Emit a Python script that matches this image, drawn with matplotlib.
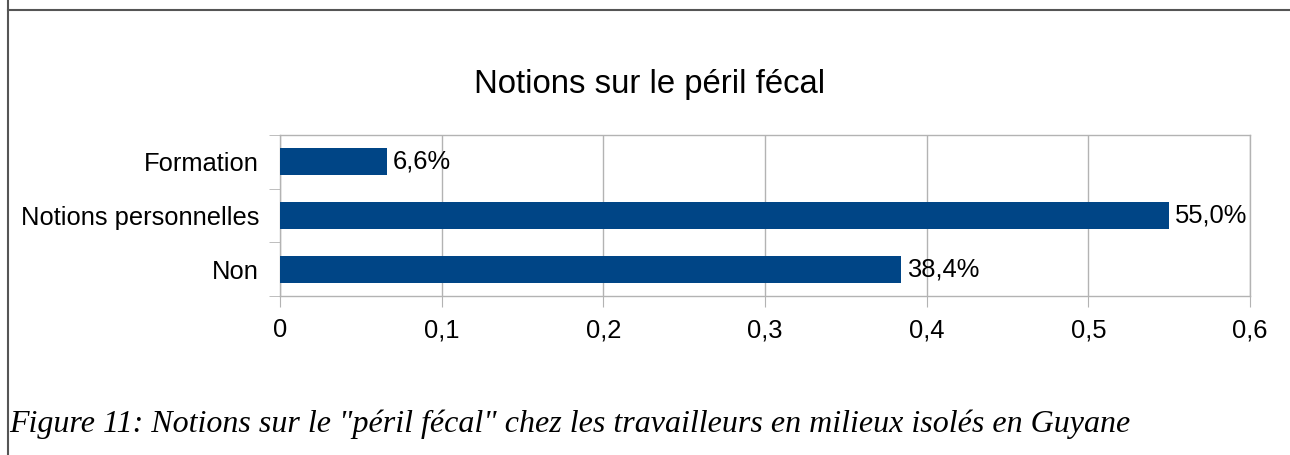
import matplotlib
matplotlib.use("Agg")
import matplotlib.pyplot as plt
from matplotlib.lines import Line2D

categories = ["Non", "Notions personnelles", "Formation"]
values = [0.384, 0.55, 0.066]
value_labels = ["38,4%", "55,0%", "6,6%"]
xticks = [0, 0.1, 0.2, 0.3, 0.4, 0.5, 0.6]
xtick_labels = ["0", "0,1", "0,2", "0,3", "0,4", "0,5", "0,6"]
title = "Notions sur le péril fécal"
caption = 'Figure 11: Notions sur le "péril fécal" chez les travailleurs en milieux isolés en Guyane'

W, H = 1290, 455
fig = plt.figure(figsize=(W / 100, H / 100), dpi=100)
fig.patch.set_facecolor("white")

ax = fig.add_axes([280 / W, 1 - 296 / H, 970 / W, 161 / H])
ypos = list(range(len(categories)))
ax.barh(ypos, values, height=0.5, color="#004586", zorder=3)
ax.set_xlim(0, 0.6)
ax.set_ylim(-0.5, len(categories) - 0.5)

grid_c = "#b3b3b3"
fs = 18.4
ax.set_xticks(xticks)
ax.set_xticklabels(xtick_labels, fontsize=fs, fontfamily="Liberation Sans")
ax.tick_params(axis="x", length=8, color=grid_c, pad=8)
ax.set_yticks(ypos)
ax.set_yticklabels(categories, fontsize=fs, fontfamily="Liberation Sans")
ax.tick_params(axis="y", which="major", length=0, pad=15)
ax.set_yticks([y - 0.5 for y in ypos] + [len(categories) - 0.5], minor=True)
ax.tick_params(axis="y", which="minor", length=8, color=grid_c)
ax.grid(axis="x", color=grid_c, linewidth=1, zorder=0)
for s in ax.spines.values():
    s.set_color(grid_c)
    s.set_linewidth(1)

for y, v, lab in zip(ypos, values, value_labels):
    ax.annotate(lab, (v, y), xytext=(4.5, 0), textcoords="offset points",
                va="center", ha="left", fontsize=fs, fontfamily="Liberation Sans",
                color="black", zorder=4)

fig.text(650 / W, 1 - 84 / H, title, ha="center", va="center",
         fontsize=23.7, fontfamily="Liberation Sans")
fig.text(9 / W, 1 - 432 / H, caption, ha="left", va="baseline",
         fontsize=23, fontfamily="Liberation Serif", style="italic")

# document frame lines
fig.add_artist(Line2D([7.5 / W, 7.5 / W], [0, 1], color="#555555", linewidth=1.5,
                      transform=fig.transFigure))
fig.add_artist(Line2D([7.5 / W, 1], [1 - 10 / H, 1 - 10 / H], color="#555555",
                      linewidth=1.5, transform=fig.transFigure))

fig.savefig("out.png", dpi=100)
